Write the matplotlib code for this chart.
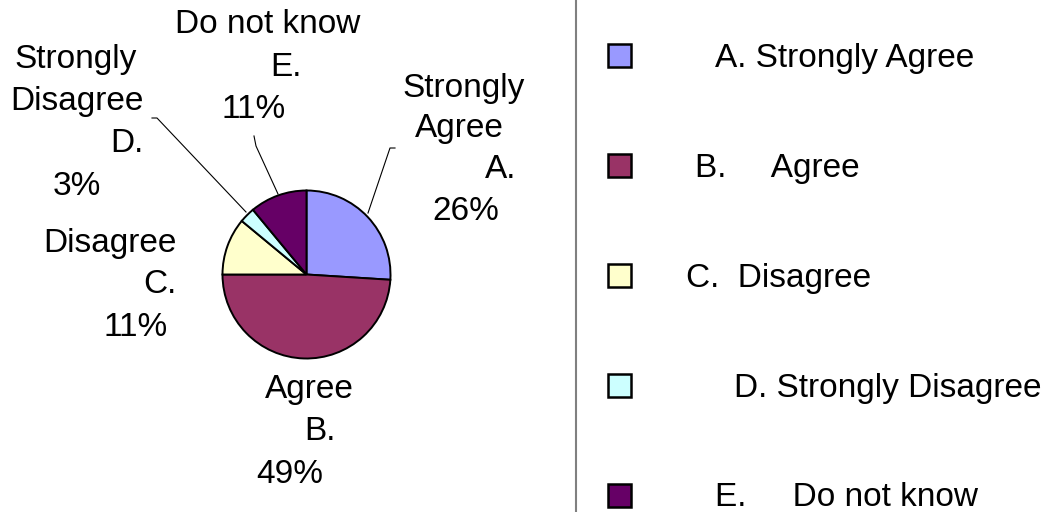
import matplotlib
matplotlib.use("Agg")
import matplotlib.pyplot as plt
from matplotlib.patches import Rectangle

plt.rcParams['font.family'] = ['Liberation Sans', 'DejaVu Sans']

## survey answers
letters = ['A', 'B', 'C', 'D', 'E']
answers = ['Strongly Agree', 'Agree', 'Disagree', 'Strongly Disagree', 'Do not know']
percents = [26, 49, 11, 3, 11]
colours = ['#9999FF', '#993366', '#FFFFCC', '#CCFFFF', '#660066']

## legend entries, spacing kept as in the original sheet
legend_texts = ['A. Strongly Agree', 'B.     Agree', 'C.  Disagree',
                'D. Strongly Disagree', 'E.     Do not know']

W, H = 1053, 512
FS = 24

def py(y):
    ## pixel row (from top) -> data y
    return H - y

fig = plt.figure(figsize=(W / 100, H / 100), dpi=100)
ax = fig.add_axes([0, 0, 1, 1])

ax.pie(percents, colors=colours, startangle=90, counterclock=False,
       center=(306.5, py(274.5)), radius=84,
       wedgeprops=dict(edgecolor='black', linewidth=1.4))
ax.set_xlim(0, W)
ax.set_ylim(0, H)
ax.set_aspect('equal')
ax.axis('off')

## data label lines: (left x, baseline row) for each line of each label
label_pos = [
    [(402, 97), (415, 137), (485, 178), (432, 220)],
    [(265, 398), (304, 440), (256, 483)],
    [(43, 252), (143, 293), (104, 336)],
    [(14, 68), (10, 110), (110, 152), (53, 195)],
    [(175, 33), (270, 76), (222, 118)],
]
for i in range(len(letters)):
    if answers[i].startswith('Strongly'):
        lines = answers[i].split()
    else:
        lines = [answers[i]]
    lines = lines + [letters[i] + '.', str(percents[i]) + '%']
    for txt, (x, y) in zip(lines, label_pos[i]):
        ax.text(x, py(y), txt, fontsize=FS, ha='left', va='baseline')

## leader lines for the labels away from the pie
leaders = [
    [(395, 148), (390, 148), (368, 213)],
    [(152, 118), (157, 118), (246, 212)],
    [(254, 136), (256, 146), (278, 194)],
]
for pts in leaders:
    ax.plot([p[0] for p in pts], [py(p[1]) for p in pts], color='black', lw=0.8)

## legend box edge
ax.plot([576, 576], [0, H], color='#808080', lw=1.5)

## legend
legend_x = [715, 695, 686, 734, 715]
for i in range(len(letters)):
    cy = 55.5 + 110 * i
    ax.add_patch(Rectangle((608, py(cy + 11.5)), 23, 23, facecolor=colours[i],
                           edgecolor='black', lw=1.8))
    ax.text(legend_x[i], py(cy + 11), legend_texts[i], fontsize=FS,
            ha='left', va='baseline')

plt.savefig("out.png", dpi=100)
